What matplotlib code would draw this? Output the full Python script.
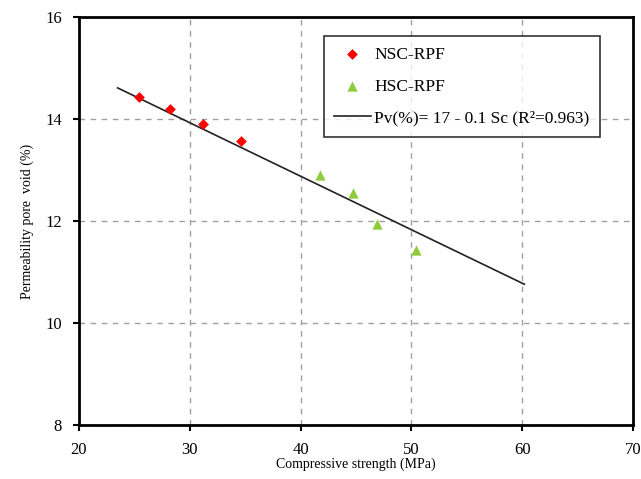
import matplotlib.pyplot as plt

# ------------ DATA ------------
nsc_strength = [25.4, 28.2, 31.2, 34.6]
nsc_void = [14.43, 14.2, 13.9, 13.57]

hsc_strength = [41.75, 44.7, 46.9, 50.4]
hsc_void = [12.9, 12.55, 11.94, 11.43]

fit_strength = [23.5, 60.2]
fit_void = [14.61, 10.76]

x_ticks = [20, 30, 40, 50, 60, 70]
y_ticks = [8, 10, 12, 14, 16]

plt.rcParams['font.family'] = ['Liberation Serif', 'DejaVu Serif']

fig = plt.figure(figsize=(6.41, 4.79), dpi=100)
ax = fig.add_axes([0.123, 0.1127, 0.8645, 0.8518])

ax.scatter(nsc_strength, nsc_void, marker='D', s=30, color='#ff0000',
           linewidths=0, label='NSC-RPF', zorder=3)
ax.scatter(hsc_strength, hsc_void, marker='^', s=55, color='#8fcc3c',
           linewidths=0, label='HSC-RPF', zorder=3)
ax.plot(fit_strength, fit_void, color='#222222', lw=1.2,
        label='Pv(%)= 17 - 0.1 Sc (R²=0.963)', zorder=2)

ax.set_xlim(20, 70)
ax.set_ylim(8, 16)
ax.set_xticks(x_ticks)
ax.set_yticks(y_ticks)
ax.tick_params(labelsize=12, direction='out', length=4, width=1.5, pad=8)
ax.grid(True, color='#a0a0a0', linestyle=(0, (4, 4)), linewidth=1)
ax.set_axisbelow(True)
for sp in ax.spines.values():
    sp.set_linewidth(2)
    sp.set_color('black')

ax.set_xlabel('Compressive strength (MPa)', fontsize=10, labelpad=0)
ax.set_ylabel('Permeability pore  void (%)', fontsize=10, labelpad=8)

leg = ax.legend(loc='upper left', bbox_to_anchor=(0.442, 0.953), fontsize=12.5,
                frameon=True, fancybox=False, edgecolor='black',
                borderpad=0.6, labelspacing=0.9, handlelength=2.1,
                handletextpad=0.2, borderaxespad=0)
leg.get_frame().set_linewidth(1.2)
leg.legend_handles[0].set_sizes([30])

fig.savefig('out.png', dpi=100)
